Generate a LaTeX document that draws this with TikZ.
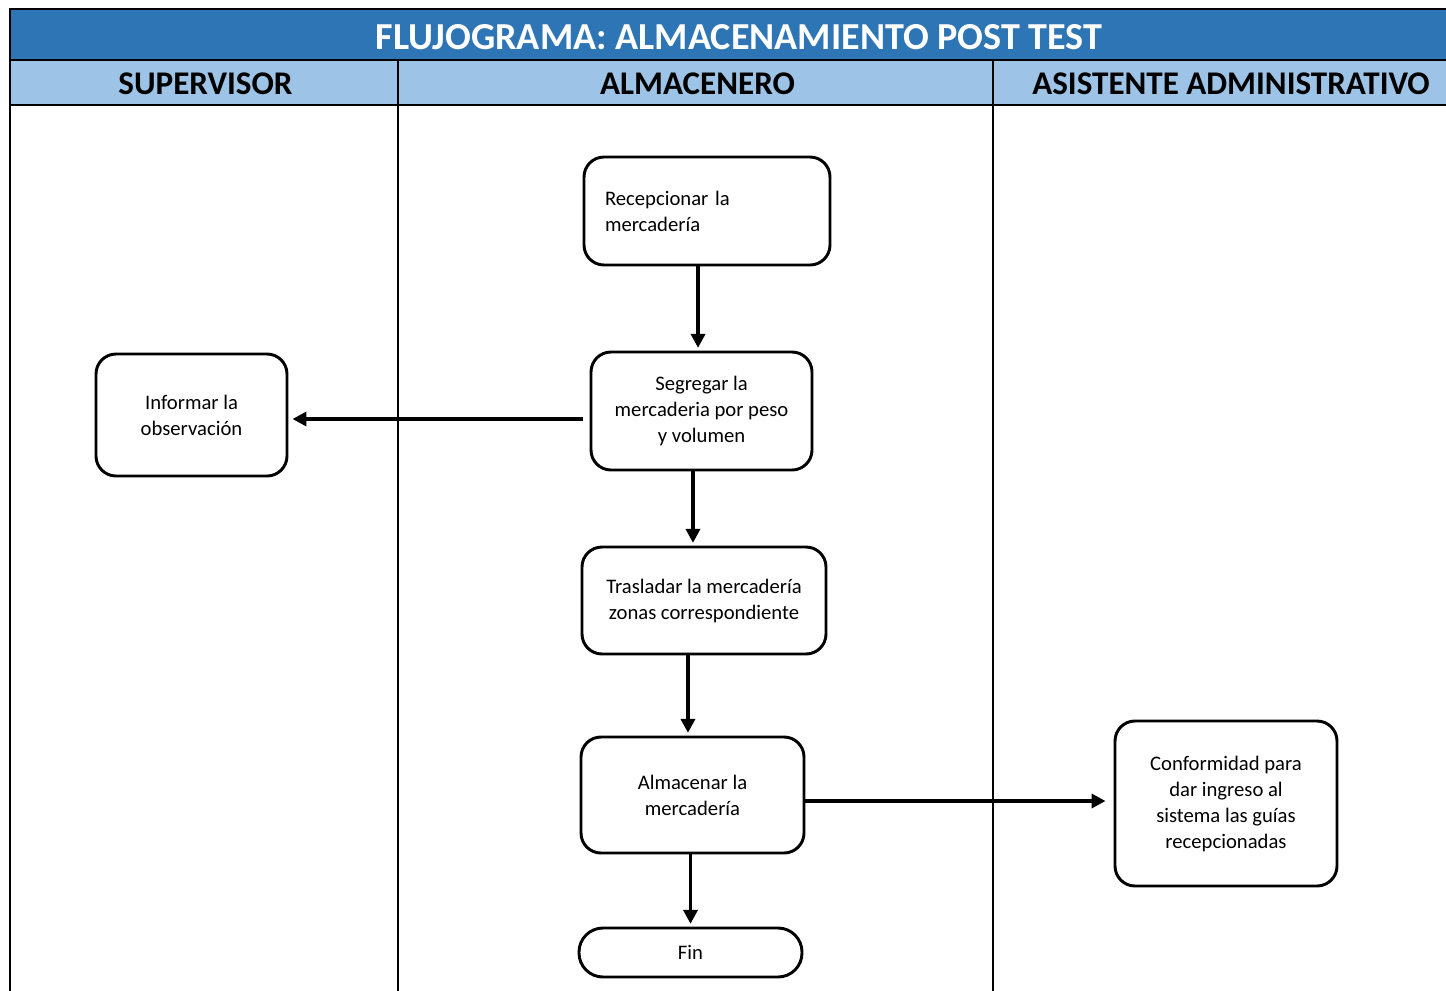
\documentclass[tikz,border=0pt]{standalone}
\usepackage{fontspec}
\setmainfont{Carlito}
\usetikzlibrary{arrows.meta,calc}
\definecolor{titleblue}{HTML}{2E75B6}
\definecolor{laneblue}{HTML}{9DC3E6}
\tikzset{
  proc/.style={draw, line width=2.2pt, rounded corners=15pt, fill=white,
    align=center, inner sep=0pt, font=\fontsize{15.5pt}{19.5pt}\selectfont},
  term/.style={proc, rounded corners=18pt},
  flow/.style={line width=2.6pt, -{Triangle[length=10.5pt,width=10.5pt]}, shorten >=2pt},
  grid/.style={line width=2.2pt},
  titletext/.style={text=white, font=\fontsize{28.6pt}{31pt}\selectfont\bfseries},
  lanetext/.style={text=black, font=\fontsize{24.8pt}{27pt}\selectfont\bfseries}
}
\begin{document}
\begin{tikzpicture}[x=0.75pt,y=-0.75pt]
\useasboundingbox (0,0) rectangle (1446,990);
\clip (0,0) rectangle (1446,990);

% table: title bar, lane headers and lane dividers
\fill[titleblue] (10,9) rectangle (1460,60);
\fill[laneblue] (10,60) rectangle (1460,105);
\draw[grid] (10,1000) -- (10,9) -- (1460,9);
\draw[grid] (10,60) -- (1460,60);
\draw[grid] (10,105) -- (1460,105);
\draw[grid] (398,60) -- (398,1000);
\draw[grid] (993,60) -- (993,1000);

\node[titletext] (title) at (739,37) {FLUJOGRAMA: ALMACENAMIENTO POST TEST};
\node[lanetext] (lsup) at (205.5,84) {SUPERVISOR};
\node[lanetext] (lalm) at (697.5,84) {ALMACENERO};
\node[lanetext] (lasi) at (1231,84) {ASISTENTE ADMINISTRATIVO};

% process steps
\node[proc, minimum width=184.5pt, minimum height=81pt, align=left, text width=153pt]
  (rec) at (707,211) {Recepcionar la\\mercadería};
\node[proc, minimum width=165.75pt, minimum height=88.5pt]
  (seg) at (701.5,411) {Segregar la\\mercaderia por peso\\y volumen};
\node[proc, minimum width=143.25pt, minimum height=91.5pt]
  (inf) at (191.5,415) {Informar la\\observación};
\node[proc, minimum width=183pt, minimum height=80.25pt]
  (tra) at (704,600.5) {Trasladar la mercadería\\zonas correspondiente};
\node[proc, minimum width=167.25pt, minimum height=87pt]
  (alm) at (692.5,795) {Almacenar la\\mercadería};
\node[term, minimum width=167.25pt, minimum height=36.75pt]
  (fin) at (690.5,952.5) {Fin};
\node[proc, minimum width=166.5pt, minimum height=123.75pt]
  (con) at (1226,803.5) {Conformidad para\\dar ingreso al\\sistema las guías\\recepcionadas};

% connectors
\draw[flow] (seg.north |- rec.south) ++(-2.6pt,0) coordinate (a1)
  -- (a1 |- seg.north);
\draw[flow] ([xshift=-6.4pt]seg.south) coordinate (a2) -- (a2 |- tra.north);
\draw[flow] ([xshift=-3.4pt]alm.north |- tra.south) coordinate (a3) -- (a3 |- alm.north);
\draw[flow] (fin.north |- alm.south) -- (fin.north);
\draw[flow, shorten <=5pt, shorten >=3pt] ([yshift=-6pt]seg.west) coordinate (a4)
  -- (a4 -| inf.east);
\draw[flow, shorten >=6pt] ([yshift=-4.5pt]alm.east) coordinate (a5) -- (a5 -| con.west);
\end{tikzpicture}
\end{document}
